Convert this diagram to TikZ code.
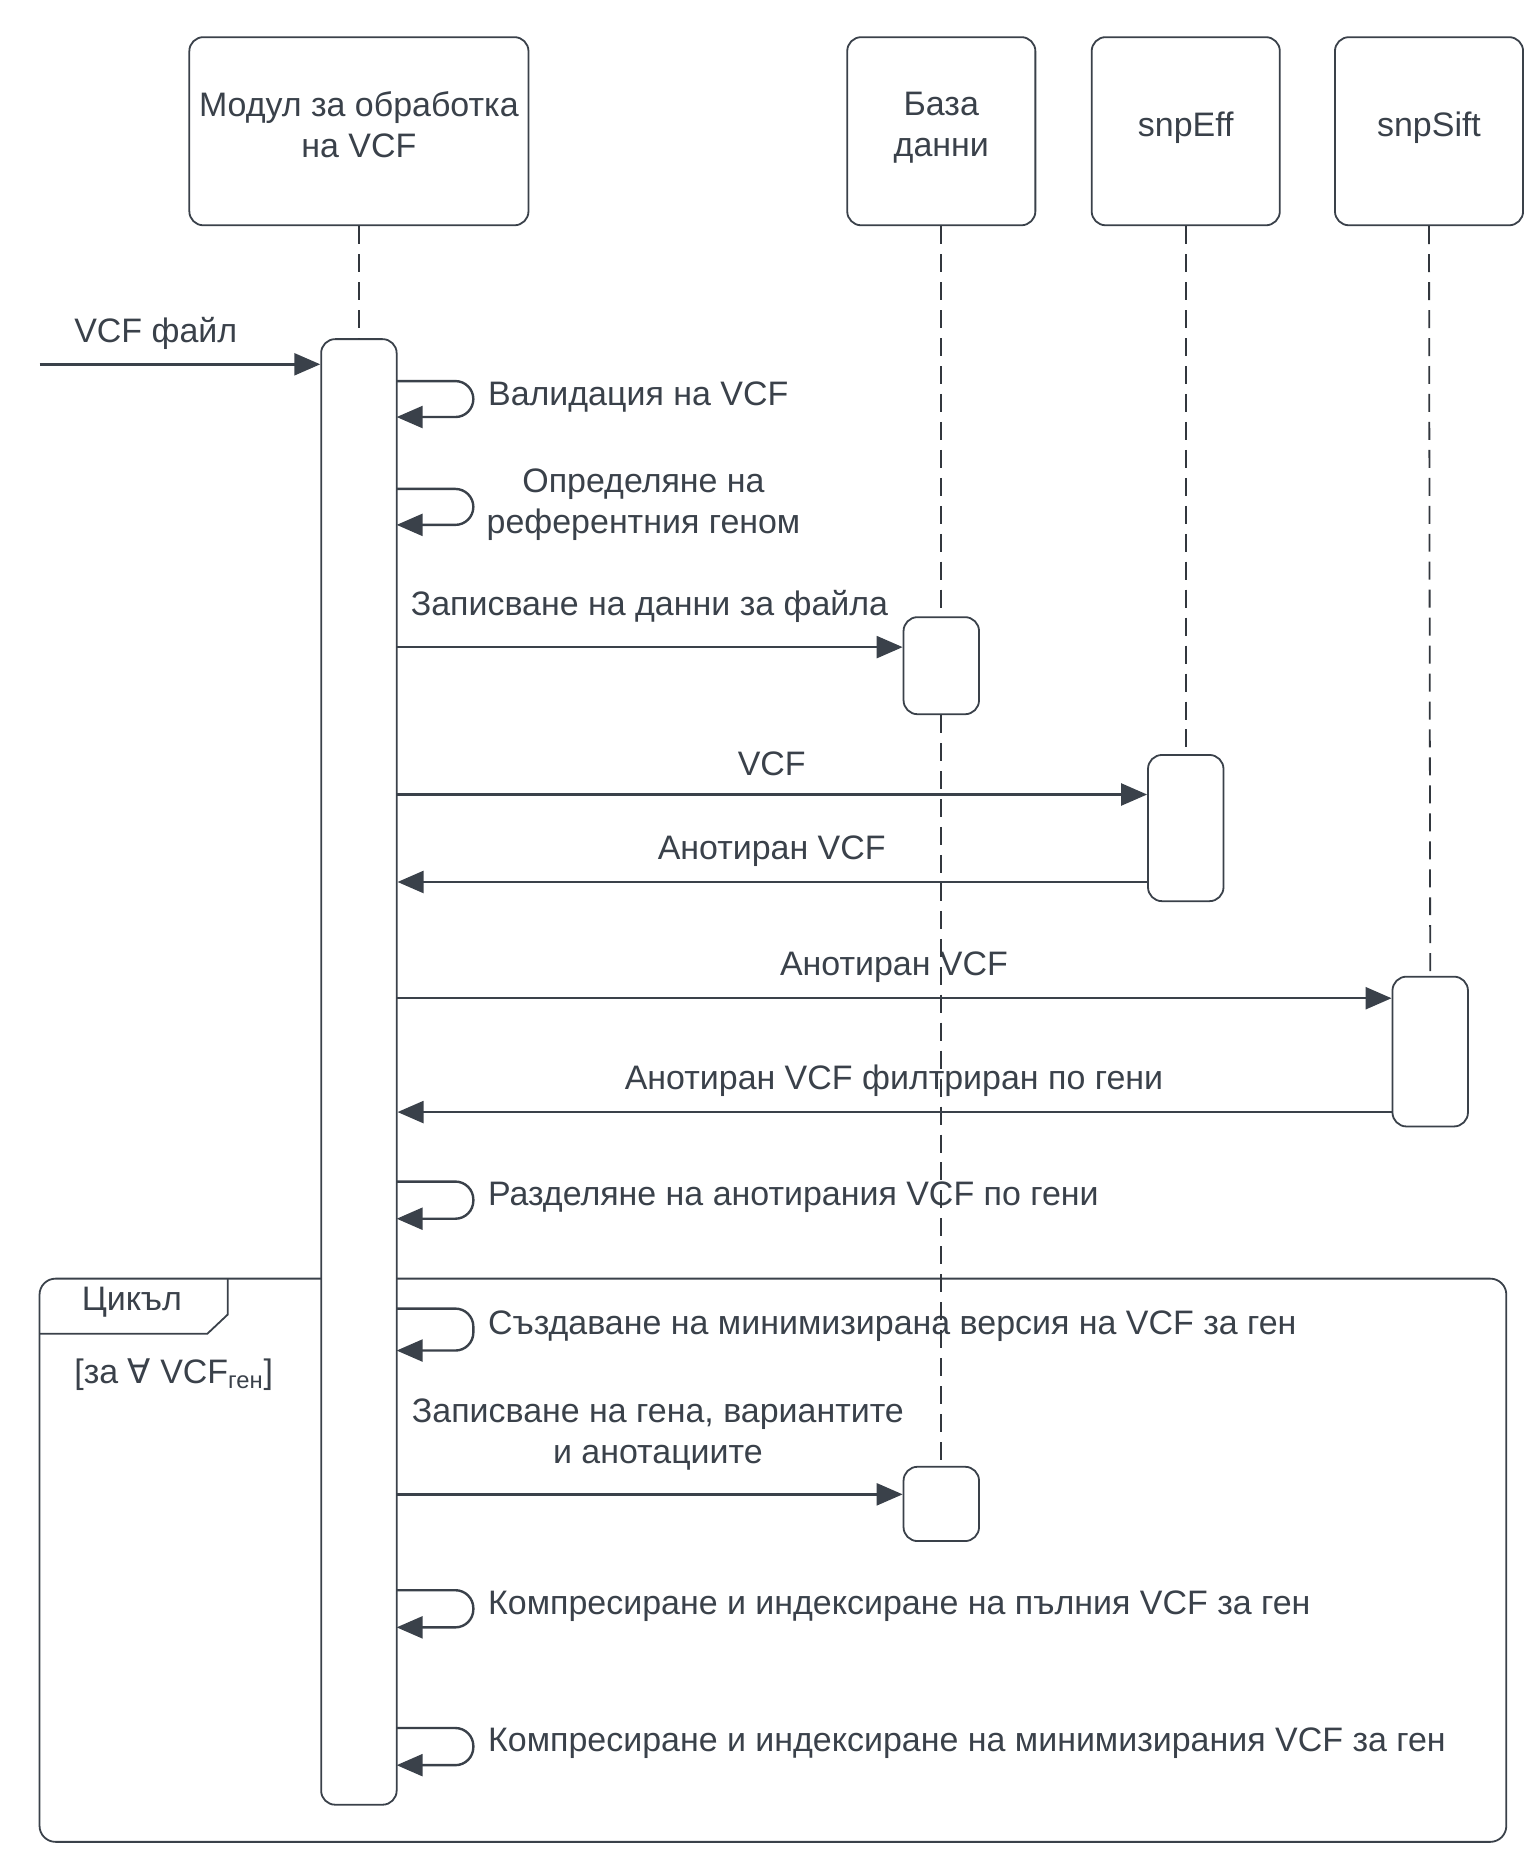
\documentclass[tikz,border=0pt]{standalone}
\usepackage{fontspec}
\setmainfont{Liberation Sans}
\newfontfamily\dejavu{DejaVu Sans}
\usepackage{xcolor}
\usepackage{tikz}
\usetikzlibrary{arrows.meta,calc,positioning}
\definecolor{inkgrey}{RGB}{58,65,74}
\definecolor{lifegrey}{RGB}{50,55,62}

\begin{document}
\begin{tikzpicture}[x=0.6pt,y=-0.6pt]

           \tikzstyle{every node}=[text=inkgrey,font=\fontsize{17}{20.4}\selectfont,inner sep=0pt]
           \tikzstyle{head}=[draw=inkgrey,line width=0.9pt,rounded corners=7pt,fill=white,minimum width=94.2pt,minimum height=94.2pt,align=center,text depth=7pt]
           \tikzstyle{bar}=[draw=inkgrey,line width=0.9pt,rounded corners=7pt,fill=white,minimum width=37.8pt]
           \tikzstyle{life}=[draw=lifegrey,line width=0.9pt,dash pattern=on 9pt off 5pt]
           \tikzstyle{msg}=[draw=inkgrey,line width=1.2pt,-{Triangle[length=13pt,width=11pt]}]
           \tikzstyle{self}=[msg,rounded corners=9pt]

    \useasboundingbox (0,0) rectangle (1280,1563);

    % headers
    \node[head, minimum width=169.8pt] (VCFmod) at (299.5,109.5) {Модул за обработка\\на VCF};
    \node[head] (DB) at (785.5,109.5) {База\\данни};
    \node[head] (Eff) at (989.5,109.5) {snpEff};
    \node[head] (Sift) at (1192.5,109.5) {snpSift};

    % loop frame
    \draw[draw=inkgrey,line width=0.9pt,rounded corners=8pt] (33,1067) rectangle (1257,1537);
    \draw[draw=inkgrey,line width=0.9pt] (190,1067) -- (190,1097) -- (173,1113) -- (33,1113);
    \node (Loop) at (110,1087) {Цикъл};
    \node (Guard) at (145,1147) {[за {\dejavu ∀} VCF\textsubscript{ген}]};

    % labels
    \node (L0) at (130,278) {VCF файл};
    \node[anchor=west] (L1) at (407,331) {Валидация на VCF};
    \node[align=center] (L2) at (537,421) {Определяне на\\референтния геном};
    \node (L3) at (542,506) {Записване на данни за файла};
    \node (L4) at (644,637) {VCF};
    \node (L5) at (644,710) {Анотиран VCF};
    \node (L6) at (746,807) {Анотиран VCF};
    \node (L7) at (746,902) {Анотиран VCF филтриран по гени};
    \node[anchor=west] (L8) at (407,999) {Разделяне на анотирания VCF по гени};
    \node[anchor=west] (L9) at (407,1107) {Създаване на минимизирана версия на VCF за ген};
    \node[align=center] (L10) at (549,1197) {Записване на гена, вариантите\\и анотациите};
    \node[anchor=west] (L11) at (407,1340) {Компресиране и индексиране на пълния VCF за ген};
    \node[anchor=west] (L12) at (407,1455) {Компресиране и индексиране на минимизирания VCF за ген};

    % activations
    \node[bar, minimum height=733.8pt] (A0) at (299.5,894.5) {};
    \node[bar, minimum height=48.6pt] (A1) at (785.5,555.5) {};
    \node[bar, minimum height=73.2pt] (A2) at (989.5,691) {};
    \node[bar, minimum height=75pt] (A3) at (1193.5,877.5) {};
    \node[bar, minimum height=37.2pt] (A4) at (785.5,1255) {};

    % lifelines
    \path[life] (VCFmod.south) -- (A0.north);
    \path[life] (DB.south) -- (A1.north);
    \path[life] (A1.south) -- (A4.north);
    \path[life] (Eff.south) -- (A2.north);
    \path[life] (Sift.south) -- (A3.north);

    % messages
    \coordinate (In) at (33,304);
    \draw[msg] (In) -- (A0.west |- In);

    \coordinate (S1) at (331,318);
    \coordinate (E1) at (331,348);
    \draw[self] (S1) -- (395,318) -- (395,348) -- (E1);

    \coordinate (S2) at (331,408);
    \coordinate (E2) at (331,438);
    \draw[self] (S2) -- (395,408) -- (395,438) -- (E2);

    \coordinate (M3) at (331,540);
    \draw[msg] (M3) -- (A1.west |- M3);

    \coordinate (M4) at (331,663);
    \draw[msg] (M4) -- (A2.west |- M4);

    \coordinate (M5) at (958,736);
    \draw[msg] (M5) -- (A0.east |- M5);

    \coordinate (M6) at (331,833);
    \draw[msg] (M6) -- (A3.west |- M6);

    \coordinate (M7) at (1162,928);
    \draw[msg] (M7) -- (A0.east |- M7);

    \coordinate (S3) at (331,986);
    \coordinate (E3) at (331,1017);
    \draw[self] (S3) -- (395,986) -- (395,1017) -- (E3);

    \coordinate (S4) at (331,1092);
    \coordinate (E4) at (331,1127);
    \draw[self] (S4) -- (395,1092) -- (395,1127) -- (E4);

    \coordinate (M8) at (331,1247);
    \draw[msg] (M8) -- (A4.west |- M8);

    \coordinate (S5) at (331,1327);
    \coordinate (E5) at (331,1358);
    \draw[self] (S5) -- (395,1327) -- (395,1358) -- (E5);

    \coordinate (S6) at (331,1442);
    \coordinate (E6) at (331,1473);
    \draw[self] (S6) -- (395,1442) -- (395,1473) -- (E6);

\end{tikzpicture}
\end{document}
